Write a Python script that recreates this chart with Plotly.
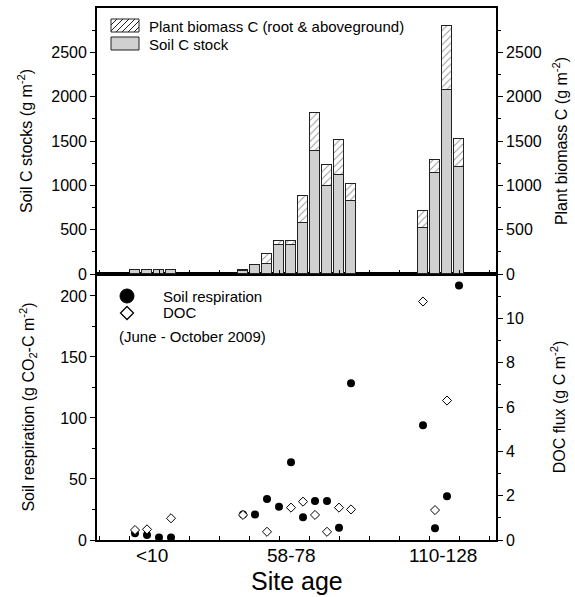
import plotly.graph_objects as go

# ---- data ----
site_slot = [3, 4, 5, 6, 12, 13, 14, 15, 16, 17, 18, 19, 20, 21, 27, 28, 29, 30]
soil_c = [48, 50, 50, 50, 37, 107, 108, 322, 322, 573, 1382, 990, 1122, 825, 514, 1142, 2076, 1206]
plant_c = [0, 0, 0, 0, 10, 0, 120, 48, 48, 309, 432, 242, 392, 193, 193, 148, 718, 311]
soil_resp = [5.5, 4, 2, 2, 21, 21, 33.6, 27.3, 63.7, 18.6, 32, 32, 10.1, 128.4, 94, 9.6, 35.8, 208.5]
doc_flux = [0.45, 0.48, None, 0.98, 1.13, None, 0.37, None, 1.46, 1.73, 1.13, 0.37, 1.46, 1.38,
            10.76, 1.35, 6.29, None]
group_labels = ["<10", "58-78", "110-128"]
group_pos = [4.4, 16.0, 28.7]
stock_ticks = [0, 500, 1000, 1500, 2000, 2500]
stock_minor = [250, 750, 1250, 1750, 2250, 2750]
resp_ticks = [0, 50, 100, 150, 200]
doc_ticks = [0, 2, 4, 6, 8, 10]

FONT = "Liberation Sans, Arial, sans-serif"
W, H = 575, 597
L, R, T, B = 97, 79, 8, 57
PW, PH = W - L - R, H - T - B


def px_x(px):
    return (px - L) / PW


def px_y(py):
    return (H - B - py) / PH


fig = go.Figure()

# top panel: stacked bars
fig.add_trace(go.Bar(x=site_slot, y=soil_c, name="Soil C stock", xaxis="x2", yaxis="y2",
                     width=0.83, marker=dict(color="#d0d0d0", line=dict(color="#222", width=1)),
                     showlegend=False))
fig.add_trace(go.Bar(x=site_slot, y=plant_c, name="Plant biomass C (root & aboveground)",
                     xaxis="x2", yaxis="y2", width=0.83,
                     marker=dict(color="white", line=dict(color="#222", width=1),
                                 pattern=dict(shape="/", fgcolor="#222", bgcolor="white",
                                              size=5, solidity=0.18)),
                     showlegend=False))
fig.add_trace(go.Scatter(x=[None], y=[None], xaxis="x2", yaxis="y4", showlegend=False))

# bottom panel: points (circles first, white diamonds on top)
fig.add_trace(go.Scatter(x=site_slot, y=soil_resp, mode="markers", xaxis="x", yaxis="y",
                         name="Soil respiration",
                         marker=dict(symbol="circle", size=8, color="black"), showlegend=False))
fig.add_trace(go.Scatter(x=site_slot, y=doc_flux, mode="markers", xaxis="x", yaxis="y3",
                         name="DOC",
                         marker=dict(symbol="diamond", size=7, color="white",
                                     line=dict(width=1, color="black")), showlegend=False))

tickfont = dict(family=FONT, size=16, color="black")
titlefont = dict(family=FONT, size=16, color="black")
common_y = dict(showline=True, linecolor="black", linewidth=1.8, ticks="outside",
                tickcolor="black", ticklen=5, tickwidth=1.2, tickfont=tickfont,
                showgrid=False, zeroline=False, automargin=False)
xr = [-0.167, 33.083]
common_x = dict(range=xr, showline=True, linecolor="black", linewidth=1.8, mirror=True,
                ticks="inside", tick0=0, dtick=2.5, ticklen=4, tickcolor="black",
                showticklabels=False, showgrid=False, zeroline=False, automargin=False)
minor_style = dict(ticks="outside", ticklen=3, tickcolor="black")

fig.update_layout(
    width=W, height=H,
    margin=dict(l=L, r=R, t=T, b=B),
    paper_bgcolor="white", plot_bgcolor="white",
    barmode="stack", bargap=0, showlegend=False,
    font=dict(family=FONT, color="black"),
    xaxis=dict(domain=[0, 1], anchor="y", **common_x),
    xaxis2=dict(domain=[0, 1], anchor="y2", matches="x", **common_x),
    yaxis=dict(domain=[0, 0.5], anchor="x", range=[0, 218], tickvals=resp_ticks,
               minor=dict(dtick=25, **minor_style),
               title=dict(text="Soil respiration (g CO<sub>2</sub>-C m<sup>-2</sup>)",
                          font=titlefont, standoff=22), **common_y),
    yaxis3=dict(overlaying="y", side="right", anchor="x", range=[0, 12], tickvals=doc_ticks,
                minor=dict(dtick=1, **minor_style),
                title=dict(text="DOC flux (g C m<sup>-2</sup>)", font=titlefont, standoff=31),
                **common_y),
    yaxis2=dict(domain=[0.5, 1], anchor="x2", range=[0, 3000], tickvals=stock_ticks,
                minor=dict(tickvals=stock_minor, **minor_style),
                title=dict(text="Soil C stocks (g m<sup>-2</sup>)", font=titlefont, standoff=15),
                **common_y),
    yaxis4=dict(overlaying="y2", side="right", anchor="x2", range=[0, 3000],
                tickvals=stock_ticks, minor=dict(tickvals=stock_minor, **minor_style),
                title=dict(text="Plant biomass C (g m<sup>-2</sup>)", font=titlefont, standoff=15),
                **common_y),
)

# ---- manual legend, top panel ----
bx0, bx1 = 14, 42          # pixels right of left axis
hy0, hy1 = -24, -11        # hatched box, pixels from top of plot (up positive)
gy0, gy1 = -42, -29        # grey box
fig.add_shape(type="rect", xref="paper", yref="paper", xsizemode="pixel", ysizemode="pixel",
              xanchor=0, yanchor=1, x0=bx0, x1=bx1, y0=hy0, y1=hy1,
              line=dict(color="#222", width=1), fillcolor="white")
segs = []
bw, bh = bx1 - bx0, hy1 - hy0
for k in range(-bh, bw, 6):
    u0, u1 = max(0, k), min(bw, bh + k)
    if u1 <= u0:
        continue
    segs.append(f"M{bx0 + u0},{hy0 + u0 - k} L{bx0 + u1},{hy0 + u1 - k}")
fig.add_shape(type="path", xref="paper", yref="paper", xsizemode="pixel", ysizemode="pixel",
              xanchor=0, yanchor=1, path=" ".join(segs), line=dict(color="#222", width=1))
fig.add_shape(type="rect", xref="paper", yref="paper", xsizemode="pixel", ysizemode="pixel",
              xanchor=0, yanchor=1, x0=bx0, x1=bx1, y0=gy0, y1=gy1,
              line=dict(color="#222", width=1), fillcolor="#d0d0d0")
legfont = dict(family=FONT, size=15, color="black")
fig.add_annotation(x=px_x(147), y=px_y(26), xref="paper", yref="paper", xanchor="left",
                   yanchor="middle", showarrow=False, font=legfont,
                   text="Plant biomass C (root &amp; aboveground)")
fig.add_annotation(x=px_x(147), y=px_y(44), xref="paper", yref="paper", xanchor="left",
                   yanchor="middle", showarrow=False, font=legfont, text="Soil C stock")

# ---- manual legend, bottom panel ----
cx = px_x(127)
fig.add_shape(type="circle", xref="paper", yref="paper", xsizemode="pixel", ysizemode="pixel",
              xanchor=cx, yanchor=px_y(296), x0=-7, x1=7, y0=-7, y1=7,
              fillcolor="black", line=dict(color="black", width=1))
fig.add_shape(type="path", xref="paper", yref="paper", xsizemode="pixel", ysizemode="pixel",
              xanchor=cx, yanchor=px_y(313), path="M0,6.5 L6.5,0 L0,-6.5 L-6.5,0 Z",
              fillcolor="white", line=dict(color="black", width=1.3))
fig.add_annotation(x=px_x(161), y=px_y(296), xref="paper", yref="paper", xanchor="left",
                   yanchor="middle", showarrow=False, font=legfont, text="Soil respiration")
fig.add_annotation(x=px_x(161), y=px_y(313), xref="paper", yref="paper", xanchor="left",
                   yanchor="middle", showarrow=False, font=legfont, text="DOC")
fig.add_annotation(x=px_x(117), y=px_y(336), xref="paper", yref="paper", xanchor="left",
                   yanchor="middle", showarrow=False, font=legfont,
                   text="(June - October 2009)")

# ---- x category labels and title ----
for lab, pos in zip(group_labels, group_pos):
    fig.add_annotation(x=pos, y=px_y(555), xref="x", yref="paper", text=lab,
                       showarrow=False, yanchor="middle",
                       font=dict(family=FONT, size=19, color="black"))
fig.add_annotation(x=0.5, y=px_y(581), xref="paper", yref="paper", text="Site age",
                   showarrow=False, yanchor="middle",
                   font=dict(family=FONT, size=25, color="black"))

# remove the default 8px page margin so the figure sits at the window's corner
fig.write_html("out.html", config={"displayModeBar": False},
               post_script="document.body.style.margin='0';")
